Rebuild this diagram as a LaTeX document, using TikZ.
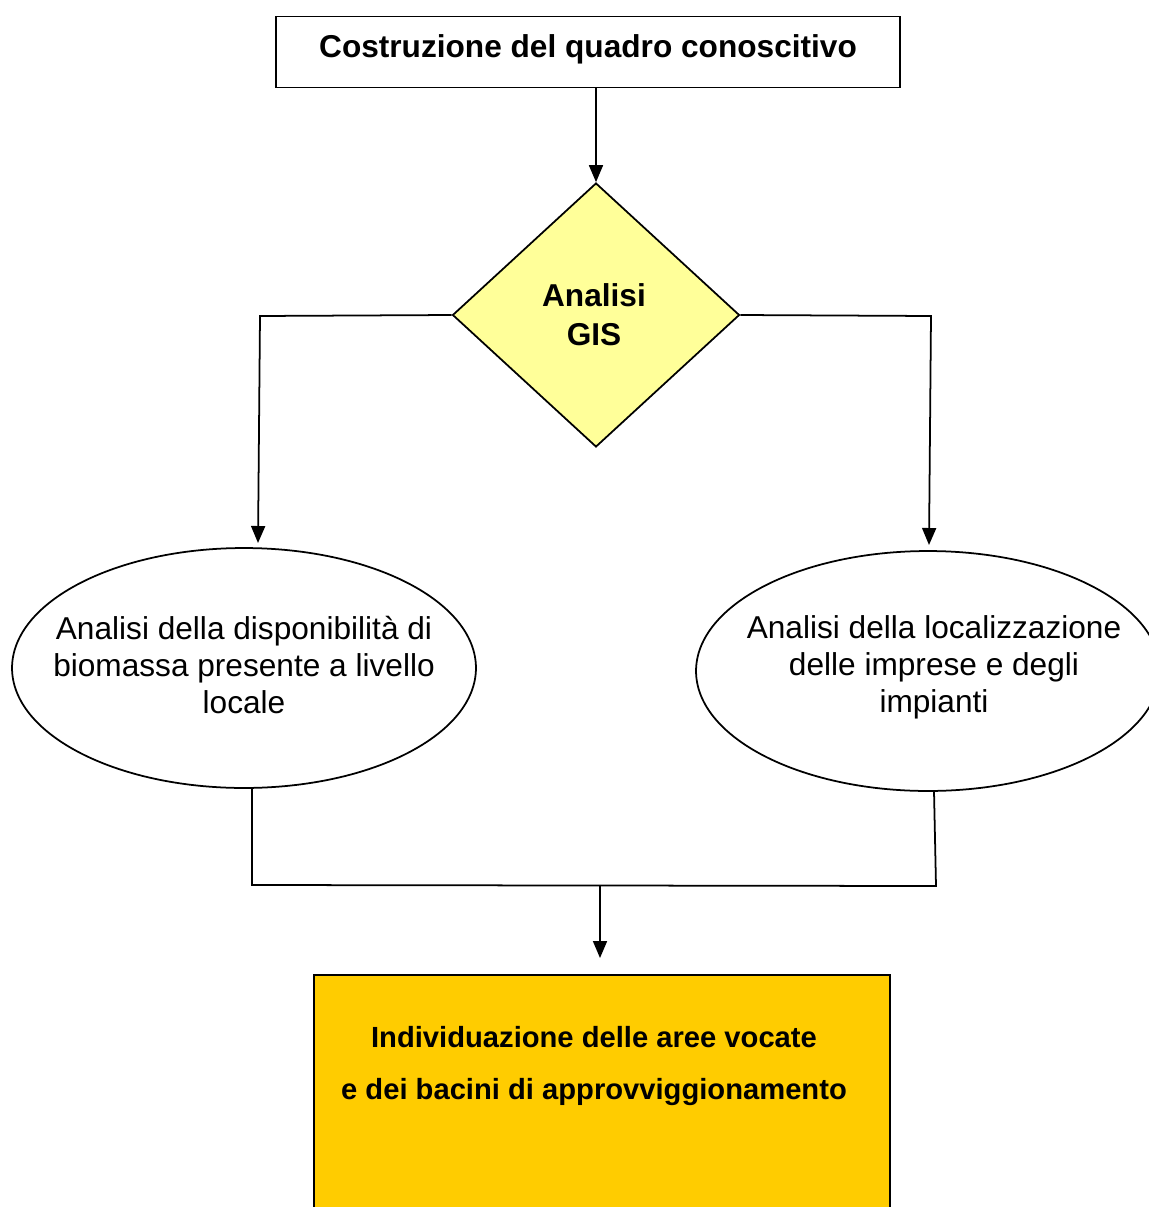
\documentclass[tikz,border=0pt]{standalone}
\usepackage{fontspec}
\setmainfont{Liberation Sans}
\usetikzlibrary{shapes.geometric,arrows.meta}
\definecolor{giallino}{HTML}{FFFF99}
\definecolor{arancio}{HTML}{FFCC00}

\begin{document}
\begin{tikzpicture}[x=0.02cm,y=-0.02cm,line width=1pt,
  freccia/.style={-{Triangle[length=0.34cm,width=0.28cm]}},
  riquadro/.style={draw,rectangle,minimum width=12.48cm,minimum height=1.42cm,inner sep=0pt},
  rombo/.style={draw,diamond,fill=giallino,minimum width=5.74cm,minimum height=5.28cm,inner sep=0pt},
  ovale/.style={draw,ellipse,minimum width=9.28cm,minimum height=4.8cm,inner sep=0pt},
  testo/.style={align=center,inner sep=0pt,font=\fontsize{18}{21}\selectfont}]

\useasboundingbox(0,0) rectangle (1149,1207);

\node[riquadro](quadro) at (588,52){};
\node[testo,font=\fontsize{18}{21}\selectfont\bfseries](quadrotesto) at (588,49){Costruzione del quadro conoscitivo};

\node[rombo](gis) at (596,315){};
\node[testo,font=\fontsize{18}{22}\selectfont\bfseries](gistesto) at (594,315){Analisi\\GIS};

\node[ovale](biomassa) at (244,668){};
\node[testo](biomassatesto) at (244,665){Analisi della disponibilità di\\biomassa presente a livello\\locale};
\node[ovale](imprese) at (928,671){};
\node[testo](impresetesto) at (934,667){Analisi della localizzazione\\delle imprese e degli\\impianti};

\filldraw[fill=arancio](314,975) rectangle (890,1220);
\node[testo,font=\fontsize{16.6}{29.5}\selectfont\bfseries](aree) at (594,1066){Individuazione delle aree vocate\\e dei bacini di approvviggionamento};

\coordinate(sx) at (260,316);
\coordinate(sxfine) at (258,543);
\coordinate(dx) at (931,316);
\coordinate(dxfine) at (929,545);
\coordinate(bsx) at (252,788);
\coordinate(bsxgiu) at (252,885);
\coordinate(bdx) at (934,791);
\coordinate(bdxgiu) at (936,886);
\coordinate(centro) at (600,886);
\coordinate(centrofine) at (600,958);

\draw[freccia](gis.north |- quadro.south)--(gis.north);
\draw[freccia](gis.west)--(sx)--(sxfine);
\draw[freccia](gis.east)--(dx)--(dxfine);
\draw(bsx)--(bsxgiu)--(bdxgiu)--(bdx);
\draw[freccia](centro)--(centrofine);

\end{tikzpicture}
\end{document}
